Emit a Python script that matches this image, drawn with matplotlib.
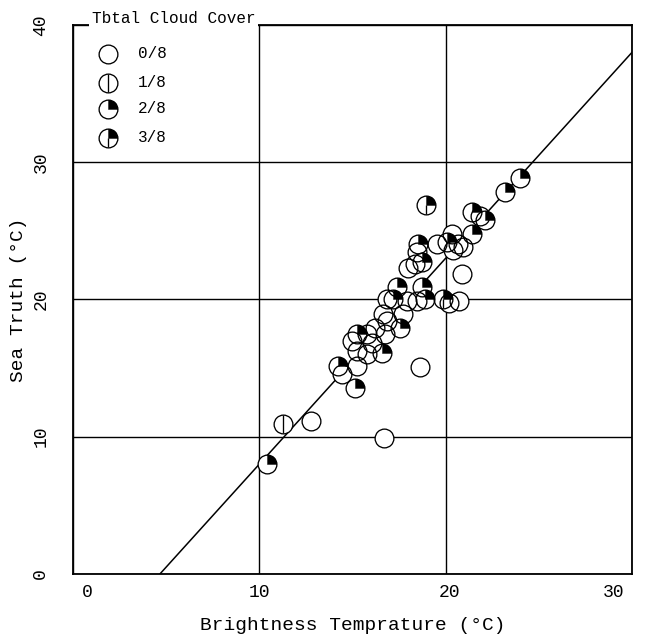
import numpy as np
import matplotlib
matplotlib.use('Agg')
import matplotlib.pyplot as plt
from matplotlib.path import Path
from matplotlib.markers import MarkerStyle
import matplotlib.transforms as mtransforms

# ---------------- data ----------------
brightness_temp = [10.44, 11.25, 12.80, 16.71, 18.64, 20.89, 18.96, 24.00, 23.19, 21.42,
                   21.85, 22.12, 21.42, 20.35, 19.55, 20.09, 20.67, 20.94, 20.41, 18.53,
                   18.48, 18.75, 18.37, 18.00, 17.41, 18.75, 16.87, 17.19, 17.94, 18.48,
                   18.90, 19.87, 20.19, 20.73, 16.66, 17.73, 16.87, 17.57, 16.77, 16.23,
                   15.27, 15.00, 15.80, 16.07, 16.60, 15.80, 15.27, 15.27, 14.25, 14.46,
                   15.16]
sea_truth = [8.04, 10.94, 11.16, 9.93, 15.07, 21.88, 26.88, 28.84, 27.83, 26.38,
             26.09, 25.80, 24.78, 24.78, 24.06, 24.20, 24.06, 23.84, 23.62, 24.06,
             23.48, 22.75, 22.61, 22.32, 20.94, 20.94, 20.00, 20.00, 19.86, 19.86,
             20.00, 20.00, 19.78, 19.86, 18.91, 18.91, 18.41, 17.90, 17.46, 17.90,
             17.46, 16.96, 17.46, 16.81, 16.09, 16.01, 16.23, 15.14, 15.14, 14.57,
             13.55]
cloud_cover = [2, 1, 0, 0, 0, 0, 3, 2, 2, 2,
               0, 2, 2, 0, 0, 2, 0, 0, 0, 2,
               0, 2, 0, 0, 2, 2, 0, 2, 0, 0,
               2, 3, 0, 0, 0, 0, 0, 2, 0, 0,
               2, 0, 0, 0, 2, 0, 0, 0, 2, 0,
               2]

legend_title = 'Tbtal Cloud Cover'
legend_covers = [0, 1, 2, 3]
legend_labels = ['0/8', '1/8', '2/8', '3/8']
legend_x = [1.88, 1.88, 1.88, 1.88]
legend_y = [37.9, 35.8, 33.9, 31.8]

x_ticks = [0, 10, 20, 30]
y_ticks = [0, 10, 20, 30, 40]
fit_x = [4.66, 30.0]
fit_slope = 1.5
fit_intercept = -7.0

# ---------------- style ----------------
plt.rcParams['font.family'] = ['Liberation Mono', 'DejaVu Sans Mono']

fig = plt.figure(figsize=(6.61, 6.36), dpi=100)
ax = fig.add_axes([0.1104, 0.0975, 0.8456, 0.8632])
ax.set_xlim(0, 30)
ax.set_ylim(0, 40)
ax.set_xticks(x_ticks)
ax.set_yticks(y_ticks)
ax.set_axisbelow(True)
ax.grid(True, color='black', linewidth=1.0)
for s in ax.spines.values():
    s.set_linewidth(1.3)
ax.tick_params(axis='both', length=0, labelsize=13)
ax.tick_params(axis='x', pad=7)
ax.tick_params(axis='y', pad=17, labelrotation=90)
for lab in ax.get_yticklabels():
    lab.set_va('center')

# shift some x tick labels like the typewritten original
offsets = {0: 14, 30: -18, 20: 4}
for val, lab in zip(x_ticks, ax.get_xticklabels()):
    dx = offsets.get(val, 0)
    if dx:
        lab.set_transform(lab.get_transform() +
                          mtransforms.ScaledTranslation(dx / 100.0, 0, fig.dpi_scale_trans))

ax.set_xlabel('Brightness Temprature (°C)', fontsize=14, labelpad=12)
ax.set_ylabel('Sea Truth (°C)', fontsize=14, labelpad=4)

# regression line
fx = np.array(fit_x)
ax.plot(fx, fit_slope * fx + fit_intercept, color='black', linewidth=1.1, zorder=1.5)

# markers
quad_marker = MarkerStyle(Path.wedge(0, 90))
full_line = MarkerStyle(Path([(0, 1), (0, -1)], [Path.MOVETO, Path.LINETO]))
half_line = MarkerStyle(Path([(0, 0), (0, -1)], [Path.MOVETO, Path.LINETO]))
MS = 13.5
LW = 0.95


def draw_symbols(xs, ys, covers, clip=True):
    xs = np.asarray(xs); ys = np.asarray(ys); covers = np.asarray(covers)
    kw = dict(linestyle='none', clip_on=clip)
    ax.plot(xs, ys, marker='o', ms=MS, mfc='white', mec='none', zorder=2, **kw)
    ax.plot(xs, ys, marker='o', ms=MS, mfc='none', mec='black', mew=LW, zorder=3, **kw)
    m = covers == 1
    if m.any():
        ax.plot(xs[m], ys[m], marker=full_line, ms=MS * 0.92, mec='black', mew=LW, zorder=4, **kw)
    m = covers >= 2
    if m.any():
        ax.plot(xs[m], ys[m], marker=quad_marker, ms=MS, mfc='black', mec='black', mew=0.3, zorder=4, **kw)
    m = covers == 3
    if m.any():
        ax.plot(xs[m], ys[m], marker=half_line, ms=MS, mec='black', mew=LW, zorder=4, **kw)


draw_symbols(brightness_temp, sea_truth, cloud_cover)
draw_symbols(legend_x, legend_y, legend_covers, clip=False)
for x, y, lab in zip(legend_x, legend_y, legend_labels):
    ax.text(x + 1.6, y, lab, fontsize=11.5, va='center', ha='left', zorder=5)

ax.text(1.0, 40.45, legend_title, fontsize=11.5, va='center', ha='left', zorder=6,
        clip_on=False, bbox=dict(facecolor='white', edgecolor='none', pad=2))

fig.savefig('out.png', dpi=100)
